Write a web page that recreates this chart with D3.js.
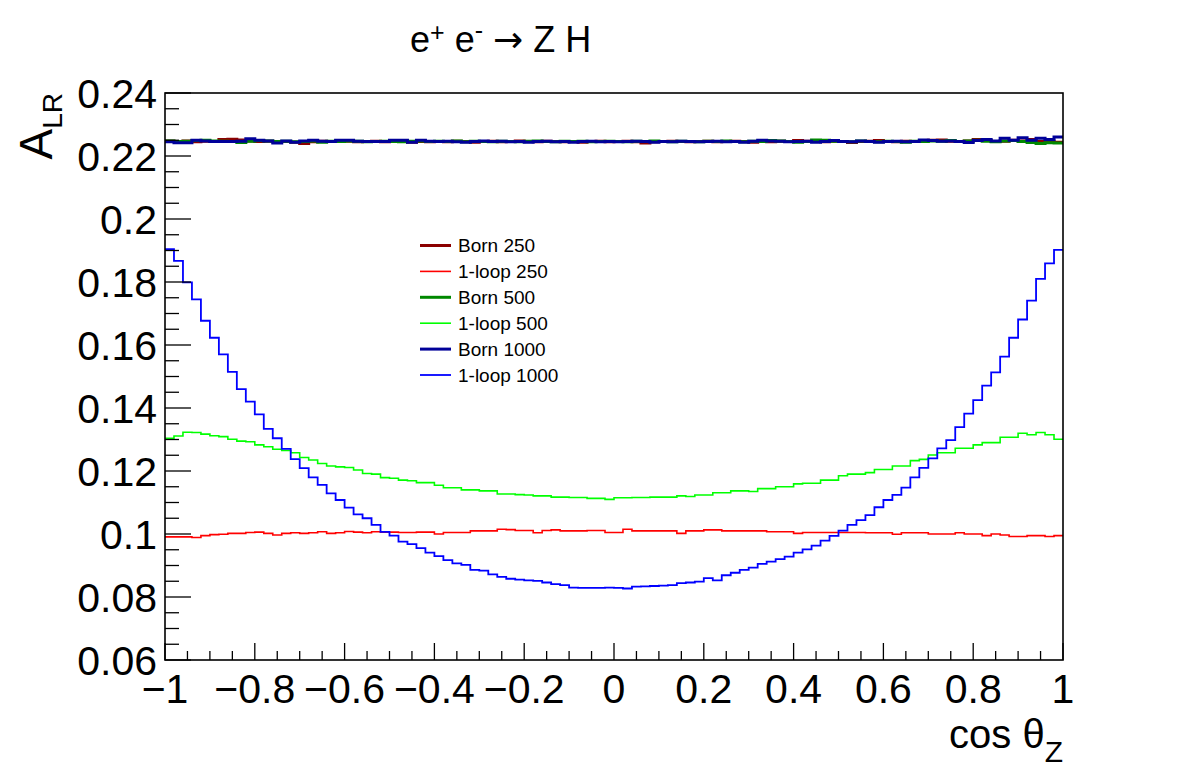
<!DOCTYPE html>
<html>
<head>
<meta charset="utf-8">
<script src="https://cdn.jsdelivr.net/npm/d3@7"></script>
<style>
body { margin: 0; background: #fff; }
svg { font-family: "Liberation Sans", Arial, sans-serif; }
</style>
</head>
<body>
<div id="chart"></div>
<script>
// 100 bins in cos theta_Z, from -1 to 1
var binEdges = d3.range(0, 101).map(function(i) { return -1 + i * 0.02; });

var born250 = [
0.2247,0.2246,0.2248,0.2245,0.2247,0.2246,0.2252,0.2253,0.2251,0.2248,
0.2246,0.2247,0.2245,0.2246,0.2244,0.2240,0.2245,0.2247,0.2246,0.2248,
0.2247,0.2245,0.2246,0.2247,0.2245,0.2246,0.2247,0.2244,0.2246,0.2245,
0.2246,0.2245,0.2247,0.2246,0.2244,0.2246,0.2247,0.2245,0.2246,0.2248,
0.2246,0.2245,0.2247,0.2246,0.2245,0.2246,0.2244,0.2246,0.2247,0.2245,
0.2246,0.2247,0.2245,0.2241,0.2245,0.2246,0.2247,0.2246,0.2245,0.2246,
0.2247,0.2245,0.2246,0.2247,0.2246,0.2244,0.2246,0.2245,0.2247,0.2246,
0.2249,0.2247,0.2246,0.2245,0.2247,0.2246,0.2243,0.2246,0.2247,0.2249,
0.2246,0.2245,0.2247,0.2246,0.2248,0.2250,0.2251,0.2247,0.2246,0.2248,
0.2252,0.2249,0.2246,0.2247,0.2250,0.2248,0.2252,0.2246,0.2248,0.2244];

var loop250 = [
0.0991,0.0991,0.0991,0.0989,0.0995,0.0998,0.0999,0.1002,0.1002,0.1005,
0.1006,0.1002,0.0997,0.1002,0.1004,0.1002,0.1004,0.1007,0.1002,0.1004,
0.1008,0.1006,0.1004,0.1007,0.1006,0.1006,0.1005,0.1005,0.1006,0.1006,
0.1000,0.1005,0.1005,0.1005,0.1010,0.1010,0.1010,0.1015,0.1014,0.1011,
0.1011,0.1004,0.1011,0.1013,0.1010,0.1010,0.1010,0.1011,0.1011,0.1005,
0.1005,0.1015,0.1010,0.1010,0.1010,0.1010,0.1010,0.1002,0.1010,0.1010,
0.1013,0.1013,0.1010,0.1010,0.1010,0.1010,0.1010,0.1007,0.1007,0.1007,
0.1002,0.1005,0.1005,0.1005,0.1005,0.1005,0.1005,0.1005,0.1004,0.1004,
0.1004,0.0999,0.1004,0.1004,0.1004,0.1000,0.1000,0.1000,0.1004,0.1000,
0.1000,0.0995,0.1000,0.0997,0.0992,0.0992,0.0995,0.0995,0.0992,0.0995];

var born500 = [
0.2248,0.2246,0.2247,0.2249,0.2250,0.2248,0.2247,0.2246,0.2243,0.2247,
0.2249,0.2248,0.2246,0.2247,0.2245,0.2246,0.2248,0.2244,0.2247,0.2246,
0.2248,0.2247,0.2245,0.2246,0.2247,0.2246,0.2245,0.2247,0.2248,0.2246,
0.2247,0.2246,0.2248,0.2245,0.2247,0.2246,0.2245,0.2247,0.2246,0.2245,
0.2247,0.2248,0.2246,0.2245,0.2247,0.2246,0.2247,0.2245,0.2246,0.2247,
0.2246,0.2245,0.2247,0.2246,0.2248,0.2246,0.2245,0.2247,0.2246,0.2245,
0.2247,0.2246,0.2248,0.2246,0.2245,0.2247,0.2246,0.2249,0.2248,0.2246,
0.2244,0.2246,0.2251,0.2250,0.2247,0.2246,0.2245,0.2248,0.2246,0.2245,
0.2247,0.2246,0.2244,0.2247,0.2246,0.2248,0.2247,0.2249,0.2246,0.2248,
0.2250,0.2247,0.2245,0.2248,0.2249,0.2246,0.2243,0.2240,0.2242,0.2241];

var loop500 = [
0.1304,0.1311,0.1323,0.1322,0.1317,0.1312,0.1309,0.1301,0.1295,0.1293,
0.1283,0.1277,0.1269,0.1265,0.1258,0.1243,0.1235,0.1224,0.1216,0.1213,
0.1211,0.1203,0.1192,0.1190,0.1179,0.1177,0.1171,0.1169,0.1163,0.1163,
0.1155,0.1147,0.1147,0.1140,0.1140,0.1137,0.1137,0.1127,0.1127,0.1125,
0.1124,0.1121,0.1121,0.1117,0.1117,0.1116,0.1116,0.1113,0.1113,0.1110,
0.1115,0.1115,0.1116,0.1116,0.1117,0.1117,0.1117,0.1121,0.1119,0.1124,
0.1124,0.1131,0.1131,0.1137,0.1137,0.1135,0.1144,0.1144,0.1150,0.1150,
0.1159,0.1161,0.1161,0.1171,0.1171,0.1185,0.1190,0.1190,0.1195,0.1205,
0.1205,0.1216,0.1216,0.1233,0.1237,0.1251,0.1258,0.1258,0.1272,0.1272,
0.1283,0.1290,0.1290,0.1307,0.1307,0.1320,0.1315,0.1322,0.1315,0.1301];

var born1000 = [
0.2245,0.2242,0.2242,0.2250,0.2248,0.2246,0.2246,0.2246,0.2247,0.2255,
0.2250,0.2248,0.2241,0.2248,0.2244,0.2248,0.2250,0.2247,0.2246,0.2250,
0.2250,0.2247,0.2246,0.2246,0.2246,0.2250,0.2250,0.2244,0.2250,0.2247,
0.2246,0.2247,0.2245,0.2244,0.2246,0.2248,0.2246,0.2247,0.2245,0.2246,
0.2244,0.2246,0.2247,0.2245,0.2246,0.2244,0.2246,0.2247,0.2245,0.2246,
0.2245,0.2246,0.2247,0.2246,0.2244,0.2246,0.2245,0.2247,0.2246,0.2245,
0.2246,0.2247,0.2245,0.2246,0.2244,0.2247,0.2250,0.2248,0.2247,0.2245,
0.2246,0.2247,0.2244,0.2246,0.2249,0.2246,0.2245,0.2248,0.2246,0.2244,
0.2246,0.2247,0.2245,0.2246,0.2251,0.2249,0.2247,0.2248,0.2246,0.2243,
0.2249,0.2252,0.2248,0.2256,0.2250,0.2258,0.2250,0.2256,0.2252,0.2260];

var loop1000 = [
0.1904,0.1867,0.1799,0.1745,0.1677,0.1623,0.1570,0.1515,0.1460,0.1420,
0.1380,0.1334,0.1304,0.1270,0.1238,0.1209,0.1180,0.1156,0.1129,0.1108,
0.1084,0.1062,0.1050,0.1029,0.1007,0.0995,0.0976,0.0968,0.0955,0.0941,
0.0930,0.0917,0.0907,0.0902,0.0886,0.0884,0.0872,0.0864,0.0858,0.0855,
0.0853,0.0851,0.0846,0.0841,0.0838,0.0830,0.0829,0.0829,0.0829,0.0830,
0.0829,0.0827,0.0833,0.0834,0.0835,0.0836,0.0838,0.0844,0.0846,0.0849,
0.0860,0.0853,0.0869,0.0877,0.0886,0.0893,0.0905,0.0912,0.0920,0.0928,
0.0941,0.0951,0.0963,0.0979,0.0994,0.1011,0.1029,0.1044,0.1060,0.1085,
0.1108,0.1124,0.1147,0.1180,0.1210,0.1240,0.1272,0.1298,0.1339,0.1382,
0.1425,0.1471,0.1513,0.1563,0.1623,0.1681,0.1741,0.1810,0.1859,0.1902];

var seriesNames = ["Born 250", "1-loop 250", "Born 500", "1-loop 500", "Born 1000", "1-loop 1000"];
var seriesValues = [born250, loop250, born500, loop500, born1000, loop1000];
var seriesColors = ["#8b0000", "#ff0000", "#008800", "#00ff00", "#000099", "#0000ff"];
var seriesWidths = [3, 1.6, 3, 1.6, 3, 1.8];

var xTicks = [-1, -0.8, -0.6, -0.4, -0.2, 0, 0.2, 0.4, 0.6, 0.8, 1];
var yTicks = [0.06, 0.08, 0.1, 0.12, 0.14, 0.16, 0.18, 0.2, 0.22, 0.24];

var width = 1182, height = 778;
var margin = {left: 165, right: 119, top: 93, bottom: 118};

var svg = d3.select("#chart").append("svg")
	.attr("width", width)
	.attr("height", height);

var x = d3.scaleLinear().domain([-1, 1]).range([margin.left, width - margin.right]);
var y = d3.scaleLinear().domain([0.06, 0.24]).range([height - margin.bottom, margin.top]);

// histogram step lines
var line = d3.line()
	.x(function(d) { return x(d[0]); })
	.y(function(d) { return y(d[1]); })
	.curve(d3.curveStepAfter);

var plot = svg.append("g");
seriesValues.forEach(function(vals, i) {
	var pts = vals.map(function(v, j) { return [binEdges[j], v]; });
	pts.push([binEdges[vals.length], vals[vals.length - 1]]);
	plot.append("path")
		.attr("d", line(pts))
		.attr("fill", "none")
		.attr("stroke", seriesColors[i])
		.attr("stroke-width", seriesWidths[i]);
});

// frame
svg.append("rect")
	.attr("x", x(-1)).attr("y", y(0.24))
	.attr("width", x(1) - x(-1)).attr("height", y(0.06) - y(0.24))
	.attr("fill", "none").attr("stroke", "#000").attr("stroke-width", 1.6);

// x axis ticks (major 0.2, minor 0.05)
var xMinor = d3.range(0, 41).map(function(i) { return -1 + i * 0.05; });
svg.append("g").selectAll("line").data(xMinor).enter().append("line")
	.attr("x1", function(d) { return x(d); }).attr("x2", function(d) { return x(d); })
	.attr("y1", y(0.06))
	.attr("y2", function(d, i) { return y(0.06) - (i % 4 === 0 ? 17 : 9); })
	.attr("stroke", "#000").attr("stroke-width", 1.3);

svg.append("g").selectAll("text").data(xTicks).enter().append("text")
	.attr("x", function(d) { return x(d); })
	.attr("y", 703)
	.attr("text-anchor", "middle")
	.style("font-size", "41px")
	.text(function(d) { return d < 0 ? "\u2212" + Math.abs(d) : String(d); });

// y axis ticks (major 0.02, minor 0.005)
var yMinor = d3.range(0, 37).map(function(i) { return 0.06 + i * 0.005; });
svg.append("g").selectAll("line").data(yMinor).enter().append("line")
	.attr("y1", function(d) { return y(d); }).attr("y2", function(d) { return y(d); })
	.attr("x1", x(-1))
	.attr("x2", function(d, i) { return x(-1) + (i % 4 === 0 ? 26 : 14); })
	.attr("stroke", "#000").attr("stroke-width", 1.3);

svg.append("g").selectAll("text").data(yTicks).enter().append("text")
	.attr("x", 157)
	.attr("y", function(d) { return y(d); })
	.attr("dy", "0.36em")
	.attr("text-anchor", "end")
	.style("font-size", "41px")
	.text(function(d) { return String(+d.toFixed(2)); });

// axis titles
var yt = svg.append("text")
	.attr("transform", "translate(52," + margin.top + ") rotate(-90)")
	.attr("text-anchor", "end")
	.style("font-size", "46px");
yt.append("tspan").text("A");
yt.append("tspan").attr("dy", 10).style("font-size", "28px").text("LR");

var xt = svg.append("text")
	.attr("x", x(1)).attr("y", 748)
	.attr("text-anchor", "end")
	.style("font-size", "40px");
xt.append("tspan").text("cos \u03b8");
xt.append("tspan").attr("dy", 14).style("font-size", "30px").text("Z");

// title
var tt = svg.append("text")
	.attr("x", 410).attr("y", 52)
	.style("font-size", "36px");
tt.append("tspan").text("e");
tt.append("tspan").attr("dy", -11).style("font-size", "25px").text("+");
tt.append("tspan").attr("dy", 11).text(" e");
tt.append("tspan").attr("dy", -13).style("font-size", "25px").text("-");
tt.append("tspan").attr("dy", 13).text(" ");
tt.append("tspan").style("font-family", "'DejaVu Sans', sans-serif").text("\u2192");
tt.append("tspan").text(" Z H");

// legend
var legend = svg.append("g");
seriesNames.forEach(function(name, i) {
	var ly = 245.5 + i * 25.9;
	legend.append("line")
		.attr("x1", 420).attr("x2", 451)
		.attr("y1", ly).attr("y2", ly)
		.attr("stroke", seriesColors[i])
		.attr("stroke-width", seriesWidths[i]);
	legend.append("text")
		.attr("x", 458).attr("y", ly)
		.attr("dy", "0.36em")
		.style("font-size", "19px")
		.text(name);
});
</script>
</body>
</html>
